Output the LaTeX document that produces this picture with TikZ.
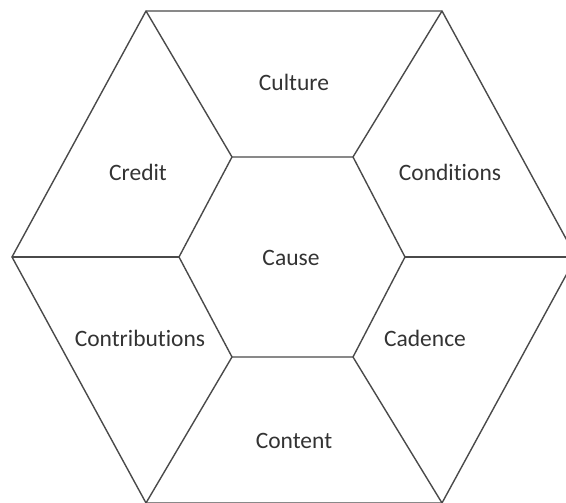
\documentclass[tikz,border=0pt]{standalone}
\usepackage{fontspec}
\setmainfont{Carlito}[Ligatures={NoCommon}]
\definecolor{edge}{HTML}{4A4A4A}
\definecolor{txt}{HTML}{333333}
\tikzset{
  hexline/.style={draw=edge, line width=1.4pt, line join=miter},
  lbl/.style={text=txt, font=\fontsize{23.5}{26}\selectfont, inner sep=0pt}
}
\begin{document}
\begin{tikzpicture}[x=1pt,y=1pt]
\useasboundingbox (0,0) rectangle (566,503);
\clip (0,0) rectangle (566,503);
% outer vertices
\coordinate (O1) at (146,492);
\coordinate (O2) at (442,492);
\coordinate (O3) at (576,246);
\coordinate (O4) at (442,0);
\coordinate (O5) at (146,0);
\coordinate (O6) at (12,246);
% inner vertices
\coordinate (I1) at (232,346);
\coordinate (I2) at (353,346);
\coordinate (I3) at (405,246);
\coordinate (I4) at (353,146);
\coordinate (I5) at (232,146);
\coordinate (I6) at (179,246);
\draw[hexline] (O1) -- (O2) -- (O3) -- (O4) -- (O5) -- (O6) -- cycle;
\draw[hexline] (I1) -- (I2) -- (I3) -- (I4) -- (I5) -- (I6) -- cycle;
\draw[hexline] (I1) -- (O1);
\draw[hexline] (I2) -- (O2);
\draw[hexline] (I3) -- (O3);
\draw[hexline] (I4) -- (O4);
\draw[hexline] (I5) -- (O5);
\draw[hexline] (I6) -- (O6);
\node[lbl] (culture) at (294,421) {Culture};
\node[lbl] (credit) at (138,331) {Credit};
\node[lbl] (conditions) at (450,331) {Conditions};
\node[lbl] (cause) at (291,245) {Cause};
\node[lbl] (contributions) at (140,165) {Contributions};
\node[lbl] (cadence) at (425,165) {Cadence};
\node[lbl] (content) at (294,62) {Content};
\end{tikzpicture}
\end{document}
